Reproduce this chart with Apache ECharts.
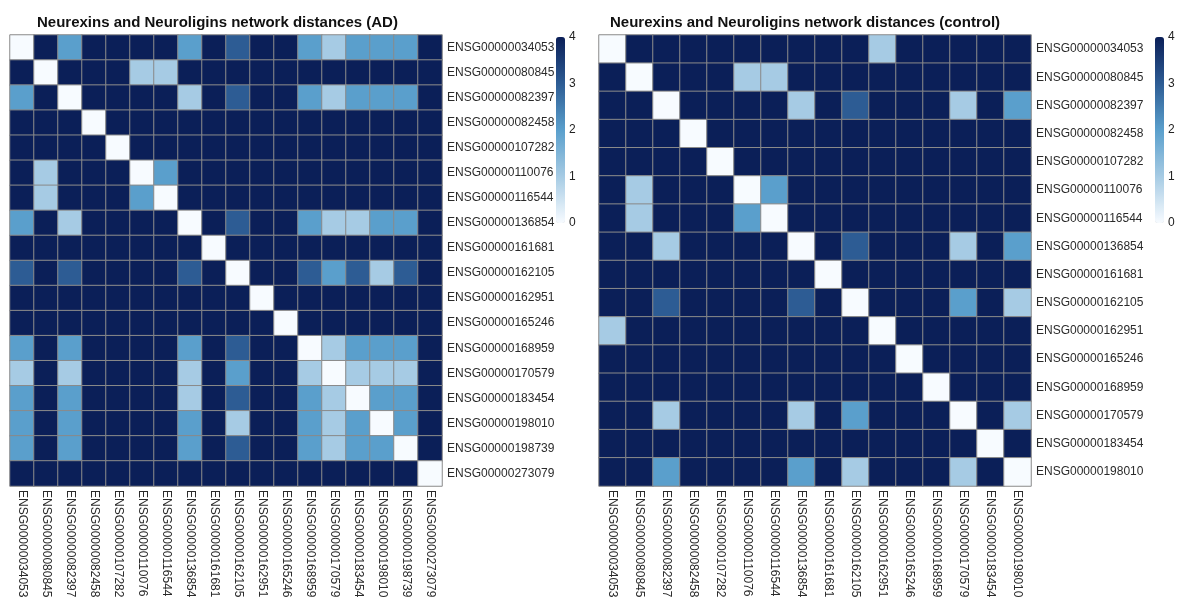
<!DOCTYPE html>
<html>
<head>
<meta charset="utf-8">
<script src="https://cdn.jsdelivr.net/npm/echarts@6/dist/echarts.min.js"></script>
<style>html,body{margin:0;padding:0;background:#fff;}#c{width:1180px;height:601px;}</style>
</head>
<body>
<div id="c"></div>
<script>
const genesAD = ['ENSG00000034053','ENSG00000080845','ENSG00000082397','ENSG00000082458','ENSG00000107282','ENSG00000110076','ENSG00000116544','ENSG00000136854','ENSG00000161681','ENSG00000162105','ENSG00000162951','ENSG00000165246','ENSG00000168959','ENSG00000170579','ENSG00000183454','ENSG00000198010','ENSG00000198739','ENSG00000273079'];
const genesCtrl = ['ENSG00000034053','ENSG00000080845','ENSG00000082397','ENSG00000082458','ENSG00000107282','ENSG00000110076','ENSG00000116544','ENSG00000136854','ENSG00000161681','ENSG00000162105','ENSG00000162951','ENSG00000165246','ENSG00000168959','ENSG00000170579','ENSG00000183454','ENSG00000198010'];
const distAD = [
[0,4,2,4,4,4,4,2,4,3,4,4,2,1,2,2,2,4],
[4,0,4,4,4,1,1,4,4,4,4,4,4,4,4,4,4,4],
[2,4,0,4,4,4,4,1,4,3,4,4,2,1,2,2,2,4],
[4,4,4,0,4,4,4,4,4,4,4,4,4,4,4,4,4,4],
[4,4,4,4,0,4,4,4,4,4,4,4,4,4,4,4,4,4],
[4,1,4,4,4,0,2,4,4,4,4,4,4,4,4,4,4,4],
[4,1,4,4,4,2,0,4,4,4,4,4,4,4,4,4,4,4],
[2,4,1,4,4,4,4,0,4,3,4,4,2,1,1,2,2,4],
[4,4,4,4,4,4,4,4,0,4,4,4,4,4,4,4,4,4],
[3,4,3,4,4,4,4,3,4,0,4,4,3,2,3,1,3,4],
[4,4,4,4,4,4,4,4,4,4,0,4,4,4,4,4,4,4],
[4,4,4,4,4,4,4,4,4,4,4,0,4,4,4,4,4,4],
[2,4,2,4,4,4,4,2,4,3,4,4,0,1,2,2,2,4],
[1,4,1,4,4,4,4,1,4,2,4,4,1,0,1,1,1,4],
[2,4,2,4,4,4,4,1,4,3,4,4,2,1,0,2,2,4],
[2,4,2,4,4,4,4,2,4,1,4,4,2,1,2,0,2,4],
[2,4,2,4,4,4,4,2,4,3,4,4,2,1,2,2,0,4],
[4,4,4,4,4,4,4,4,4,4,4,4,4,4,4,4,4,0]
];
const distCtrl = [
[0,4,4,4,4,4,4,4,4,4,1,4,4,4,4,4],
[4,0,4,4,4,1,1,4,4,4,4,4,4,4,4,4],
[4,4,0,4,4,4,4,1,4,3,4,4,4,1,4,2],
[4,4,4,0,4,4,4,4,4,4,4,4,4,4,4,4],
[4,4,4,4,0,4,4,4,4,4,4,4,4,4,4,4],
[4,1,4,4,4,0,2,4,4,4,4,4,4,4,4,4],
[4,1,4,4,4,2,0,4,4,4,4,4,4,4,4,4],
[4,4,1,4,4,4,4,0,4,3,4,4,4,1,4,2],
[4,4,4,4,4,4,4,4,0,4,4,4,4,4,4,4],
[4,4,3,4,4,4,4,3,4,0,4,4,4,2,4,1],
[1,4,4,4,4,4,4,4,4,4,0,4,4,4,4,4],
[4,4,4,4,4,4,4,4,4,4,4,0,4,4,4,4],
[4,4,4,4,4,4,4,4,4,4,4,4,0,4,4,4],
[4,4,1,4,4,4,4,1,4,2,4,4,4,0,4,1],
[4,4,4,4,4,4,4,4,4,4,4,4,4,4,0,4],
[4,4,2,4,4,4,4,2,4,1,4,4,4,1,4,0]
];
const legendTicks = [0,1,2,3,4];
const titles = ['Neurexins and Neuroligins network distances (AD)','Neurexins and Neuroligins network distances (control)'];

function toCells(m){const out=[];m.forEach((row,i)=>row.forEach((v,j)=>out.push([j,i,v])));return out;}

const palette = ['#f7fbff','#a6cbe4','#5a9fcc','#2d5c94','#0b1f58'];
const font = 'Liberation Sans, Arial, Helvetica, sans-serif';
const lblColor = '#2a2a2a';

const chart = echarts.init(document.getElementById('c'), null, {renderer:'canvas'});

function catX(genes, gi){return {type:'category',gridIndex:gi,data:genes,position:'bottom',
  axisLine:{show:false},axisTick:{show:false},splitLine:{show:false},
  axisLabel:{rotate:-90,fontSize:12,fontFamily:font,color:lblColor,margin:4,interval:0}};}
function catY(genes, gi){return {type:'category',gridIndex:gi,data:genes,position:'right',inverse:true,
  axisLine:{show:false},axisTick:{show:false},splitLine:{show:false},
  axisLabel:{fontSize:12,fontFamily:font,color:lblColor,margin:5,interval:0}};}
function legX(gi){return {type:'value',gridIndex:gi,show:false,min:0,max:1};}
function legY(gi){return {type:'value',gridIndex:gi,min:0,max:4,interval:1,position:'right',
  axisLine:{show:false},axisTick:{show:false},splitLine:{show:false},
  axisLabel:{fontSize:12,fontFamily:font,color:'#222',margin:4}};}
function vm(si, left){return {type:'continuous',min:0,max:4,seriesIndex:si,orient:'vertical',left:left,top:37,
  itemWidth:9,itemHeight:186,padding:0,calculable:false,hoverLink:false,realtime:false,
  inRange:{color:palette},textStyle:{color:'rgba(0,0,0,0)',fontSize:1}};}

const option = {
  backgroundColor:'#ffffff',
  animation:false,
  title:[
    {text:titles[0],left:32,top:10,textStyle:{fontSize:15,fontWeight:'bold',fontFamily:font,color:'#111'}},
    {text:titles[1],left:605,top:10,textStyle:{fontSize:15,fontWeight:'bold',fontFamily:font,color:'#111'}}
  ],
  grid:[
    {left:10,top:35,width:432,height:451},
    {left:599,top:35,width:432,height:451},
    {left:556,top:37,width:9,height:186},
    {left:1155,top:37,width:9,height:186}
  ],
  xAxis:[catX(genesAD,0),catX(genesCtrl,1),legX(2),legX(3)],
  yAxis:[catY(genesAD,0),catY(genesCtrl,1),legY(2),legY(3)],
  visualMap:[vm(0,556),vm(1,1155)],
  series:[
    {type:'heatmap',xAxisIndex:0,yAxisIndex:0,data:toCells(distAD),itemStyle:{borderColor:'#8a8a8a',borderWidth:1},emphasis:{disabled:true}},
    {type:'heatmap',xAxisIndex:1,yAxisIndex:1,data:toCells(distCtrl),itemStyle:{borderColor:'#8a8a8a',borderWidth:1},emphasis:{disabled:true}}
  ]
};
chart.setOption(option);
</script>
</body>
</html>
